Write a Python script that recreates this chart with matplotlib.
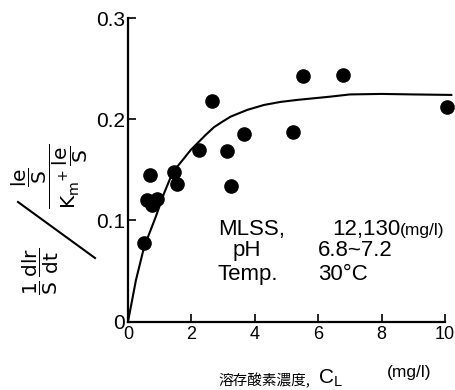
import matplotlib
matplotlib.use('Agg')
import matplotlib.pyplot as plt
from matplotlib.lines import Line2D

plt.rcParams['font.family'] = ['Liberation Sans', 'DejaVu Sans']
plt.rcParams['mathtext.default'] = 'regular'

# observed points (dissolved oxygen, specific rate)
x_obs = [0.51, 0.70, 0.60, 0.75, 0.91, 1.44, 1.56, 2.24, 2.64, 3.13, 3.24, 3.66, 5.20, 5.52, 6.77, 10.05]
y_obs = [0.078, 0.145, 0.120, 0.115, 0.121, 0.148, 0.136, 0.170, 0.218, 0.169, 0.134, 0.185, 0.187, 0.243, 0.244, 0.212]

# fitted curve
curve_x = [0.0, 0.25, 0.51, 0.88, 1.14, 1.35, 1.55, 1.77, 1.98, 2.19, 2.45, 2.71, 2.98, 3.24,
           3.76, 4.29, 4.81, 5.34, 6.38, 7.0, 8.0, 9.0, 10.2]
curve_y = [0.0, 0.041, 0.074, 0.104, 0.127, 0.143, 0.153, 0.1615, 0.1697, 0.1763, 0.1845, 0.1921,
           0.1976, 0.2026, 0.2092, 0.2141, 0.2171, 0.2191, 0.2223, 0.2245, 0.225, 0.2245, 0.224]

x_ticks = [0, 2, 4, 6, 8, 10]
x_ticklabels = ['0', '2', '4', '6', '8', '10']
y_ticks = [0, 0.1, 0.2, 0.3]
y_ticklabels = ['0', '0.1', '0.2', '0.3']

W, H = 455, 390
def px(x, y):
    return x / W, 1 - y / H

fig = plt.figure(figsize=(4.55, 3.9), dpi=100)
ax = fig.add_axes([128 / W, 1 - 321.7 / H, 317 / W, 303.7 / H])
ax.plot(curve_x, curve_y, color='black', lw=1.5, clip_on=False, solid_joinstyle='round')
ax.plot(x_obs, y_obs, 'o', color='black', ms=9.5, clip_on=False)
ax.set_xlim(0, 10)
ax.set_ylim(0, 0.3)
ax.set_xticks(x_ticks)
ax.set_xticklabels(x_ticklabels)
ax.set_yticks(y_ticks)
ax.set_yticklabels(y_ticklabels)
for s in ['top', 'right']:
    ax.spines[s].set_visible(False)
for s in ['left', 'bottom']:
    ax.spines[s].set_linewidth(1.6)
ax.tick_params(direction='in', length=6, width=1.2, colors='black')
ax.tick_params(axis='x', labelsize=13, pad=3)
ax.tick_params(axis='y', labelsize=15, pad=2)

# condition annotations
fig.text(*px(218, 235), 'MLSS,', fontsize=16, va='baseline')
fig.text(*px(332, 235), '12,130', fontsize=16, va='baseline')
fig.text(*px(400, 235), '(mg/l)', fontsize=12.5, va='baseline')
fig.text(*px(233, 256), 'pH', fontsize=16, va='baseline')
fig.text(*px(318, 256), '6.8~7.2', fontsize=16, va='baseline')
fig.text(*px(218, 280), 'Temp.', fontsize=16, va='baseline')
fig.text(*px(318, 280), '30°C', fontsize=16, va='baseline')

# x label
fig.text(*px(218, 385), '溶存酸素濃度,', family=['Noto Sans CJK JP', 'DejaVu Sans'],
         fontsize=10.5, va='baseline')
fig.text(*px(318, 384), r'C$_{L}$', fontsize=15, va='baseline')
fig.text(*px(387, 377), '(mg/l)', fontsize=12.5, va='baseline')

# y label
fig.text(*px(50, 176), r'$\dfrac{\dfrac{le}{S}}{K_{m}{}^{+}\,\dfrac{le}{S}}$', rotation=90,
         ha='center', va='center', fontsize=14.5, family='DejaVu Sans')
fig.text(*px(41, 271), r'$\dfrac{1}{S}\,\dfrac{dlr}{dt}$', rotation=90,
         ha='center', va='center', fontsize=14.5, family='DejaVu Sans')
x0, y0 = px(18, 202)
x1, y1 = px(95, 258)
fig.add_artist(Line2D([x0, x1], [y0, y1], transform=fig.transFigure, color='black', lw=1.5))

fig.savefig('out.png', dpi=100)
